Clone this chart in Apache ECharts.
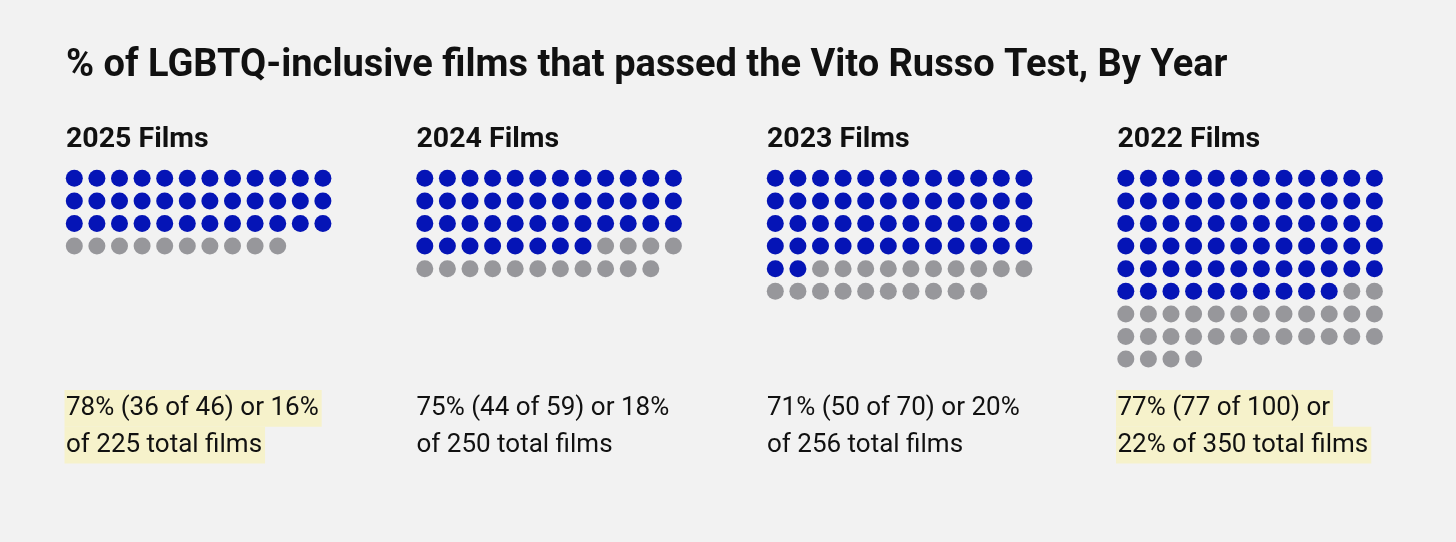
<!DOCTYPE html>
<html>
<head>
<meta charset="utf-8">
<script src="https://cdn.jsdelivr.net/npm/echarts@6/dist/echarts.min.js"></script>
<style>
  html, body { margin: 0; padding: 0; background: #f2f2f2; }
  #chart { width: 1456px; height: 542px; }
</style>
</head>
<body>
<div id="chart"></div>
<script>
// ---- Data ----
const chartTitle = '% of LGBTQ-inclusive films that passed the Vito Russo Test, By Year';
const panelTitles = ['2025 Films', '2024 Films', '2023 Films', '2022 Films'];
const passedDots = [36, 44, 50, 70];      // blue dots as drawn
const inclusiveFilms = [46, 59, 70, 100]; // total dots
const captionLine1 = ['78% (36 of 46) or 16%', '75% (44 of 59) or 18%', '71% (50 of 70) or 20%', '77% (77 of 100) or'];
const captionLine2 = ['of 225 total films', 'of 250 total films', 'of 256 total films', '22% of 350 total films'];
const highlighted = [true, false, false, true];

// ---- Layout ----
const COLS = 12, ROWS = 9;
const STEP = 22.6;
const PANEL_DX = 350.5;
const GRID_LEFT0 = 63;
const GRID_TOP = 167;
const TEXT_LEFT0 = 66;
const BLUE = '#0514b6';
const GRAY = '#97979b';
const INK = '#111111';
const HILITE = '#f6f2cb';
const FONT = 'Roboto, "Noto Sans", sans-serif';

const grids = [], xAxes = [], yAxes = [], series = [], graphics = [];

panelTitles.forEach((t, p) => {
  const left = GRID_LEFT0 + PANEL_DX * p;
  grids.push({ left: left, top: GRID_TOP, width: COLS * STEP, height: ROWS * STEP });
  xAxes.push({ gridIndex: p, type: 'value', min: -0.5, max: COLS - 0.5, show: false });
  yAxes.push({ gridIndex: p, type: 'value', min: -0.5, max: ROWS - 0.5, inverse: true, show: false });
  const yes = [], no = [];
  for (let i = 0; i < inclusiveFilms[p]; i++) {
    const pt = [i % COLS, Math.floor(i / COLS)];
    (i < passedDots[p] ? yes : no).push(pt);
  }
  series.push({ type: 'scatter', xAxisIndex: p, yAxisIndex: p, data: yes, symbolSize: 17,
    itemStyle: { color: BLUE, opacity: 1 }, silent: true, animation: false });
  series.push({ type: 'scatter', xAxisIndex: p, yAxisIndex: p, data: no, symbolSize: 17,
    itemStyle: { color: GRAY, opacity: 1 }, silent: true, animation: false });

  const tx = TEXT_LEFT0 + PANEL_DX * p;
  graphics.push({ type: 'text', x: tx, y: 125, style: {
    text: t, font: 'bold 28.5px ' + FONT, fill: INK, verticalAlign: 'top' } });
  [captionLine1[p], captionLine2[p]].forEach((line, k) => {
    graphics.push({ type: 'text', x: tx - 1.5, y: 390 + k * 36.7, style: {
      text: line, font: '26px ' + FONT, fill: INK,
      lineHeight: 36.7, verticalAlign: 'top',
      backgroundColor: highlighted[p] ? HILITE : 'transparent',
      padding: [0, 3, 0, 1.5] } });
  });
});

graphics.push({ type: 'text', x: 66, y: 47, style: {
  text: chartTitle, font: 'bold 38px ' + FONT, fill: INK, verticalAlign: 'top' } });

const chart = echarts.init(document.getElementById('chart'));
chart.setOption({
  backgroundColor: '#f2f2f2',
  animation: false,
  grid: grids, xAxis: xAxes, yAxis: yAxes, series: series,
  graphic: graphics
});
</script>
</body>
</html>
